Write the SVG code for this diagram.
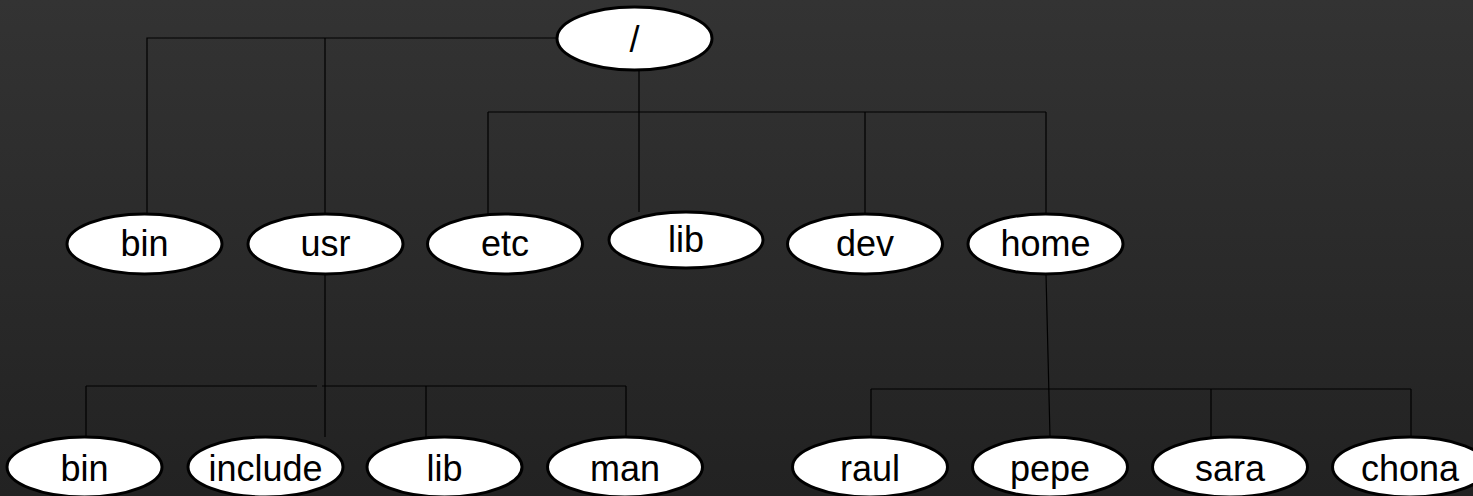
<svg xmlns="http://www.w3.org/2000/svg" width="1473" height="496" viewBox="0 0 1473 496">
<defs>
<linearGradient id="bg" x1="0" y1="0" x2="0" y2="1">
<stop offset="0" stop-color="#333333"/>
<stop offset="1" stop-color="#222222"/>
</linearGradient>
<style>
.n ellipse{fill:#ffffff;stroke:#000000;stroke-width:3}
.n text{font-family:"Liberation Sans",Arial,sans-serif;font-size:36px;fill:#000000;text-anchor:middle}
#edges{stroke:#000000;stroke-width:1.2;fill:none}
</style>
</defs>
<rect width="1473" height="496" fill="url(#bg)"/>
<g id="edges">
<path d="M557 38H147V214M325 38V214"/>
<path d="M639 70V112M488 112H1046M488 112V214M639 112V212M865 112V214M1046 112V214"/>
<path d="M325 274V437M86 386H317M322 386H626M86 386V438M426 386V438M626 386V438"/>
<path d="M1046 274L1050 437M871 389H1411M871 389V438M1211 389V438M1411 389V438"/>
</g>
<g id="root" class="n"><ellipse cx="634.5" cy="38.5" rx="77.5" ry="31.5"/><text x="634.5" y="52">/</text></g>
<g id="bin" class="n"><ellipse cx="144.5" cy="244" rx="77.5" ry="30"/><text x="144.5" y="256">bin</text></g>
<g id="usr" class="n"><ellipse cx="325.5" cy="244" rx="77.5" ry="30"/><text x="325.5" y="256">usr</text></g>
<g id="etc" class="n"><ellipse cx="505" cy="244" rx="77.5" ry="30"/><text x="505" y="256">etc</text></g>
<g id="lib" class="n"><ellipse cx="686" cy="240" rx="77" ry="28"/><text x="686" y="252">lib</text></g>
<g id="dev" class="n"><ellipse cx="865" cy="244" rx="77.5" ry="30"/><text x="865" y="256">dev</text></g>
<g id="home" class="n"><ellipse cx="1045.5" cy="244" rx="77.5" ry="30"/><text x="1045.5" y="256">home</text></g>
<g id="usr-bin" class="n"><ellipse cx="84.5" cy="467" rx="77.5" ry="30"/><text x="84.5" y="481">bin</text></g>
<g id="usr-include" class="n"><ellipse cx="265.5" cy="467" rx="77.5" ry="30"/><text x="265.5" y="481">include</text></g>
<g id="usr-lib" class="n"><ellipse cx="444.5" cy="467" rx="77.5" ry="30"/><text x="444.5" y="481">lib</text></g>
<g id="usr-man" class="n"><ellipse cx="625" cy="467" rx="77.5" ry="30"/><text x="625" y="481">man</text></g>
<g id="raul" class="n"><ellipse cx="870" cy="467" rx="77.5" ry="30"/><text x="870" y="481">raul</text></g>
<g id="pepe" class="n"><ellipse cx="1050" cy="467" rx="77.5" ry="30"/><text x="1050" y="481">pepe</text></g>
<g id="sara" class="n"><ellipse cx="1230" cy="467" rx="77.5" ry="30"/><text x="1230" y="481">sara</text></g>
<g id="chona" class="n"><ellipse cx="1410" cy="467" rx="77.5" ry="30"/><text x="1410" y="481">chona</text></g>
</svg>
